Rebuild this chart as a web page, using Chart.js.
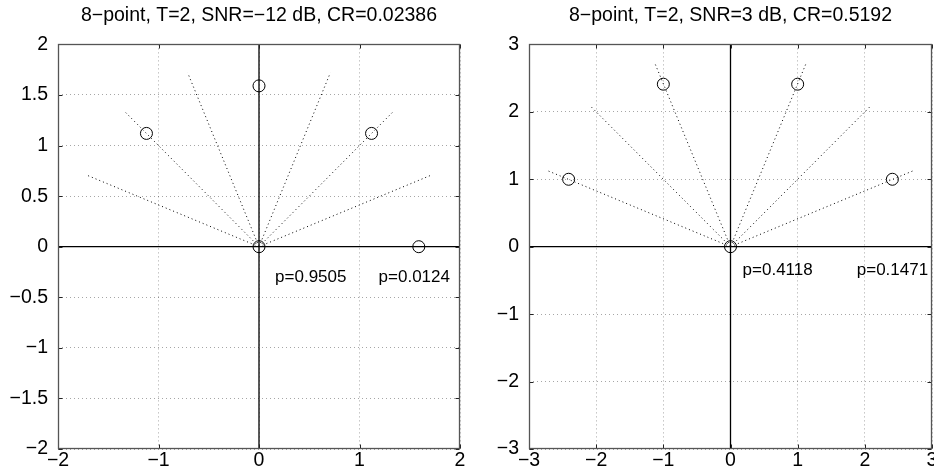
<!DOCTYPE html>
<html>
<head>
<meta charset="utf-8">
<script src="https://cdn.jsdelivr.net/npm/chart.js@4/dist/chart.umd.min.js"></script>
<style>
    html, body { margin: 0; padding: 0; background: #fff; overflow: hidden; }
    body { width: 934px; height: 476px; position: relative; }
    .box { position: absolute; top: 0; height: 476px; }
    #boxL { left: 0; width: 467px; }
    #boxR { left: 467px; width: 480px; }
</style>
</head>
<body>
<div class="box" id="boxL"><canvas id="chartL"></canvas></div>
<div class="box" id="boxR"><canvas id="chartR"></canvas></div>
<script>
// ======================
// DATA
// ======================
const leftTitle = "8\u2212point, T=2, SNR=\u221212 dB, CR=0.02386";
const leftRange = [-2, 2];
const leftXTicks = [-2, -1, 0, 1, 2];
const leftYTicks = [-2, -1.5, -1, -0.5, 0, 0.5, 1, 1.5, 2];
const leftPoints = [[0, 0], [1.59, 0], [1.12, 1.12], [0, 1.59], [-1.12, 1.12]];
const leftRays = [[1.72, 0.71], [1.34, 1.34], [0.71, 1.72], [-0.71, 1.72], [-1.34, 1.34], [-1.72, 0.71]];
const leftLabels = ["p=0.9505", "p=0.0124"];
const leftLabelPos = [[0.16, -0.30], [1.19, -0.30]];

const rightTitle = "8\u2212point, T=2, SNR=3 dB, CR=0.5192";
const rightRange = [-3, 3];
const rightXTicks = [-3, -2, -1, 0, 1, 2, 3];
const rightYTicks = [-3, -2, -1, 0, 1, 2, 3];
const rightPoints = [[0, 0], [2.41, 1], [1, 2.41], [-1, 2.41], [-2.41, 1]];
const rightRays = [[2.73, 1.13], [2.09, 2.09], [1.13, 2.73], [-1.13, 2.73], [-2.09, 2.09], [-2.73, 1.13]];
const rightLabels = ["p=0.4118", "p=0.1471"];
const rightLabelPos = [[0.18, -0.35], [1.88, -0.35]];


// ======================
// HELPERS
// ======================
const FONT = "'Liberation Sans', Arial, sans-serif";

function fmt(v) {
    return String(v).replace("-", "\u2212");
}

// frame round the plot area, inward tick marks, "p=" texts
const framePlugin = {
    id: "frame",
    afterDraw(chart, args, opts) {
        const ctx = chart.ctx;
        const a = chart.chartArea;
        const L = Math.round(a.left) + 0.5, R = Math.round(a.right) - 0.5;
        const T = Math.round(a.top) + 0.5, B = Math.round(a.bottom) - 0.5;
        ctx.save();

        ctx.strokeStyle = "#222";
        ctx.lineWidth = 1;
        ctx.beginPath();
        chart.scales.x.ticks.forEach(t => {
            const x = Math.round(chart.scales.x.getPixelForValue(t.value)) + 0.5;
            ctx.moveTo(x, B); ctx.lineTo(x, B - 4);
            ctx.moveTo(x, T); ctx.lineTo(x, T + 4);
        });
        chart.scales.y.ticks.forEach(t => {
            const y = Math.round(chart.scales.y.getPixelForValue(t.value)) + 0.5;
            ctx.moveTo(L, y); ctx.lineTo(L + 4, y);
            ctx.moveTo(R, y); ctx.lineTo(R - 4, y);
        });
        ctx.stroke();

        ctx.strokeStyle = "#555";
        ctx.lineWidth = 1.3;
        ctx.strokeRect(L, T, R - L, B - T);

        ctx.fillStyle = "#000";
        ctx.font = "17px " + FONT;
        ctx.textBaseline = "middle";
        ctx.textAlign = "left";
        opts.labels.forEach((t, i) => {
            const x = chart.scales.x.getPixelForValue(opts.pos[i][0]);
            const y = chart.scales.y.getPixelForValue(opts.pos[i][1]);
            ctx.fillText(t, x, y);
        });
        ctx.restore();
    }
};

function makeChart(id, cfg) {
    const rays = cfg.rays.map(p => ({
        data: [{x: 0, y: 0}, {x: p[0], y: p[1]}],
        borderColor: "#000",
        borderWidth: 1,
        borderDash: [1, 3],
        pointRadius: 0,
        showLine: true
    }));

    const axisLines = [
        {data: [{x: cfg.range[0], y: 0}, {x: cfg.range[1], y: 0}]},
        {data: [{x: 0, y: cfg.range[0]}, {x: 0, y: cfg.range[1]}]}
    ].map(d => Object.assign(d, {
        borderColor: "#000",
        borderWidth: 1.3,
        pointRadius: 0,
        showLine: true
    }));

    const points = {
        data: cfg.points.map(p => ({x: p[0], y: p[1]})),
        pointStyle: "circle",
        pointRadius: 6,
        borderColor: "#000",
        borderWidth: 1,
        backgroundColor: "rgba(0,0,0,0)",
        showLine: false
    };

    const gridStyle = {
        color: "rgba(0,0,0,0.35)",
        lineWidth: 1,
        drawTicks: false
    };

    return new Chart(document.getElementById(id), {
        type: "scatter",
        data: {datasets: rays.concat(axisLines, [points])},
        options: {
            responsive: true,
            maintainAspectRatio: false,
            animation: false,
            layout: {padding: {left: 0, right: cfg.padRight, top: 0, bottom: 0}},
            plugins: {
                legend: {display: false},
                tooltip: {enabled: false},
                title: {
                    display: true,
                    text: cfg.title,
                    fullSize: false,
                    color: "#000",
                    font: {family: FONT, size: 19.5, weight: "normal"},
                    padding: {top: 4, bottom: 17}
                },
                frame: {labels: cfg.labels, pos: cfg.labelPos}
            },
            scales: {
                x: {
                    type: "linear",
                    min: cfg.range[0],
                    max: cfg.range[1],
                    afterBuildTicks: s => { s.ticks = cfg.xTicks.map(v => ({value: v})); },
                    afterFit: s => { s.height = 27; },
                    grid: gridStyle,
                    border: {display: false, dash: [1, 3]},
                    ticks: {
                        color: "#000",
                        padding: 0,
                        maxRotation: 0,
                        font: {family: FONT, size: 19.5},
                        callback: v => fmt(v)
                    }
                },
                y: {
                    type: "linear",
                    min: cfg.range[0],
                    max: cfg.range[1],
                    afterBuildTicks: s => { s.ticks = cfg.yTicks.map(v => ({value: v})); },
                    afterFit: s => { s.width = cfg.yWidth; },
                    grid: gridStyle,
                    border: {display: false, dash: [1, 3]},
                    ticks: {
                        color: "#000",
                        padding: 10,
                        font: {family: FONT, size: 19.5},
                        callback: v => fmt(v)
                    }
                }
            }
        },
        plugins: [framePlugin]
    });
}

makeChart("chartL", {
    title: leftTitle, range: leftRange, xTicks: leftXTicks, yTicks: leftYTicks,
    points: leftPoints, rays: leftRays, labels: leftLabels, labelPos: leftLabelPos,
    yWidth: 58, padRight: 6
});

makeChart("chartR", {
    title: rightTitle, range: rightRange, xTicks: rightXTicks, yTicks: rightYTicks,
    points: rightPoints, rays: rightRays, labels: rightLabels, labelPos: rightLabelPos,
    yWidth: 62, padRight: 15
});
</script>
</body>
</html>
